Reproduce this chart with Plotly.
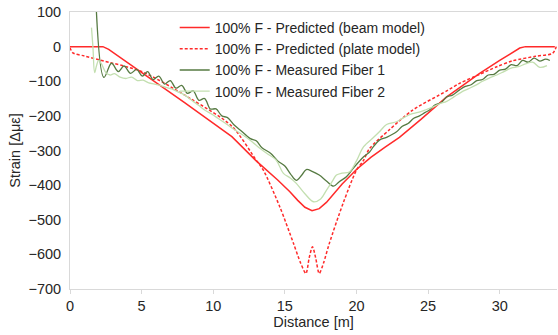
import plotly.graph_objects as go

# Predicted (beam model)
beam_x = [0, 2.3, 2.7, 5.0, 8.0, 11.3, 13.0, 14.5, 15.35, 15.9, 16.4, 16.9, 17.4, 17.9, 18.4, 19.0, 20.0, 21.0, 22.0, 23.0, 24.5, 26.3, 27.5, 28.6, 30.0, 31.0, 31.4, 31.8, 33.85]
beam_y = [0, 0, -8, -74, -162, -260, -330, -385, -419, -444, -464, -474, -468, -450, -425, -397, -355, -320, -290, -262, -210, -145, -110, -77, -40, -14, -4, 0, 0]

# Predicted (plate model)
plate_x = [0, 0.2, 1.0, 2.1, 5.0, 8.4, 11.3, 13.0, 13.5, 14.65, 15.6, 16.1, 16.47, 16.7, 16.93, 17.15, 17.4, 17.7, 18.1, 19.07, 20.0, 20.5, 20.9, 22.3, 23.9, 26.3, 27.2, 28.6, 29.8, 30.9, 32.5, 33.7, 33.95]
plate_y = [-3, -18, -27, -39, -72, -150, -230, -328, -357, -463, -568, -625, -655, -610, -578, -610, -655, -625, -569, -452, -357, -328, -295, -240, -184, -128, -106, -80, -58, -41, -28, -19, 0]

# Measured Fiber 1
f1_x = [1.8, 2.37, 2.9, 3.37, 3.77, 4.23, 4.65, 5.05, 5.42, 5.8, 6.2, 6.6, 7.0, 7.4, 7.8, 8.2, 8.6, 9.0, 9.4, 9.8, 10.2, 10.6, 11.0, 11.5, 12.0, 12.56, 13.0, 13.4, 14.0, 14.5, 15.0, 15.4, 15.8, 16.2, 16.5, 16.9, 17.4, 17.9, 18.4, 18.8, 19.3, 19.8, 20.5, 20.9, 21.2, 21.6, 22.1, 22.8, 23.2, 23.6, 24.0, 24.4, 24.8, 25.1, 25.5, 25.9, 26.3, 26.7, 27.2, 27.6, 28.0, 28.4, 28.8, 29.2, 29.6, 30.0, 30.4, 30.8, 31.2, 31.6, 32.0, 32.4, 32.8, 33.2, 33.5]
f1_y = [140, -89, -48, -72, -56, -77, -66, -85, -72, -95, -85, -108, -98, -120, -112, -135, -128, -155, -150, -180, -180, -200, -205, -228, -245, -265, -272, -292, -308, -330, -345, -368, -386, -370, -355, -360, -371, -388, -403, -390, -376, -350, -318, -305, -288, -270, -262, -246, -230, -222, -207, -200, -190, -183, -168, -162, -145, -140, -125, -115, -110, -98, -95, -82, -80, -68, -65, -52, -55, -40, -45, -33, -42, -36, -40]

# Measured Fiber 2
f2_x = [1.5, 1.6, 1.72, 1.85, 2.0, 2.2, 2.5, 2.8, 3.1, 3.5, 3.9, 4.3, 4.7, 5.1, 5.5, 5.9, 6.3, 6.7, 7.1, 7.5, 8.0, 8.5, 9.0, 9.4, 9.9, 10.3, 10.8, 11.3, 11.8, 12.3, 12.8, 13.3, 13.8, 14.4, 14.9, 15.4, 15.8, 16.4, 17.0, 17.5, 17.9, 18.3, 18.6, 19.0, 19.5, 20.0, 20.5, 21.2, 21.6, 22.1, 22.8, 23.3, 23.8, 24.3, 24.8, 25.3, 25.8, 26.3, 26.8, 27.3, 27.8, 28.3, 28.8, 29.3, 29.8, 30.3, 30.8, 31.3, 31.8, 32.3, 32.8, 33.3]
f2_y = [55, 0, -75, -55, -40, -50, -75, -82, -78, -88, -92, -88, -98, -97, -105, -108, -112, -118, -122, -130, -140, -155, -170, -183, -195, -206, -220, -235, -248, -262, -278, -295, -310, -328, -366, -380, -395, -425, -448, -440, -415, -390, -371, -365, -362, -330, -289, -262, -246, -225, -217, -205, -195, -190, -183, -175, -165, -158, -145, -132, -122, -112, -100, -90, -82, -72, -62, -58, -50, -45, -60, -55]

names = ["100% F - Predicted (beam model)", "100% F - Predicted (plate model)",
         "100% F - Measured Fiber 1", "100% F - Measured Fiber 2"]

x_ticks = [0, 5, 10, 15, 20, 25, 30]
y_ticks = [100, 0, -100, -200, -300, -400, -500, -600, -700]

FONT = "Liberation Sans, Arial, sans-serif"

fig = go.Figure()
fig.add_trace(go.Scatter(x=beam_x, y=beam_y, mode="lines", name=names[0],
                         line=dict(color="#ff2a2a", width=1.5, shape="linear")))
fig.add_trace(go.Scatter(x=plate_x, y=plate_y, mode="lines", name=names[1],
                         line=dict(color="#ff2a2a", width=1.5, dash="3px,2px", shape="spline", smoothing=0.8)))
fig.add_trace(go.Scatter(x=f1_x, y=f1_y, mode="lines", name=names[2],
                         line=dict(color="#567a42", width=1.3, shape="spline")))
fig.add_trace(go.Scatter(x=f2_x, y=f2_y, mode="lines", name=names[3],
                         line=dict(color="#c3dfb0", width=1.3, shape="spline")))

fig.update_layout(
    width=558, height=335,
    margin=dict(l=70, r=1, t=12, b=46),
    paper_bgcolor="white", plot_bgcolor="white",
    font=dict(family=FONT, size=14.5, color="#262626"),
    showlegend=True,
    legend=dict(x=0.215, y=1.0, xanchor="left", yanchor="top",
                bgcolor="rgba(0,0,0,0)", font=dict(size=14, color="#262626"),
                tracegroupgap=0, itemwidth=30),
    xaxis=dict(range=[0, 34], tickvals=x_ticks, showgrid=False, zeroline=False,
               showline=True, linecolor="#d9d9d9", linewidth=1, mirror=True,
               ticks="outside", ticklen=4, tickcolor="#d9d9d9",
               tickfont=dict(size=14.5),
               title=dict(text="Distance [m]", standoff=2, font=dict(size=14.5))),
    yaxis=dict(range=[-700, 100], tickvals=y_ticks, showgrid=False, zeroline=False,
               showline=True, linecolor="#d9d9d9", linewidth=1,
               ticks="", ticklabelstandoff=5, tickfont=dict(size=14.5),
               title=dict(text="Strain [Δμε]", standoff=4, font=dict(size=14.5))),
)

fig.write_html("out.html")
